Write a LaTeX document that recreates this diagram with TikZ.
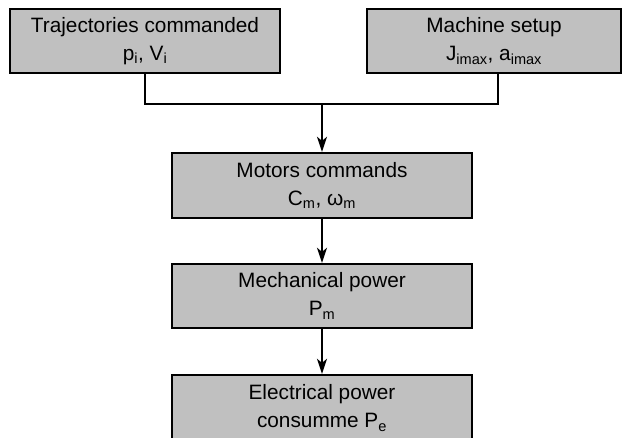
\documentclass[tikz,border=0pt]{standalone}
\usepackage{fontspec}
\setmainfont{Liberation Sans}
\usetikzlibrary{arrows.meta,calc}
\definecolor{boxgray}{RGB}{192,192,192}
\tikzset{
  block/.style={draw=black, line width=2.4pt, fill=boxgray, align=center,
    inner sep=0pt, font=\fontsize{20.8}{28}\selectfont},
  conn/.style={line width=1.5pt, draw=black},
  arr/.style={conn, -{Stealth[length=15pt,width=10pt,inset=4pt]}}
}
\begin{document}
\begin{tikzpicture}[x=1pt,y=-1pt]
\useasboundingbox (0,0) rectangle (623,438);
\node[block, minimum width=270pt, minimum height=64pt] (traj) at (145,41)
  {Trajectories commanded\\p\textsubscript{i}, V\textsubscript{i}};
\node[block, minimum width=254pt, minimum height=64pt] (mach) at (494,41)
  {Machine setup\\J\textsubscript{imax}, a\textsubscript{imax}};
\node[block, minimum width=300pt, minimum height=65pt] (motors) at (322,185.5)
  {Motors commands\\C\textsubscript{m}, ω\textsubscript{m}};
\node[block, minimum width=300pt, minimum height=64pt] (mech) at (322,296)
  {Mechanical power\\P\textsubscript{m}};
\node[block, minimum width=300pt, minimum height=66pt] (elec) at (322,408)
  {Electrical power\\consumme P\textsubscript{e}};
\coordinate (j) at (322,104);
\coordinate (ms) at ($(mach.south)+(4,0)$);
\draw[conn] (traj.south) |- (j) -| (ms);
\draw[arr] (j) -- (motors.north);
\draw[arr] (motors.south) -- (mech.north);
\draw[arr] (mech.south) -- (elec.north);
\end{tikzpicture}
\end{document}
